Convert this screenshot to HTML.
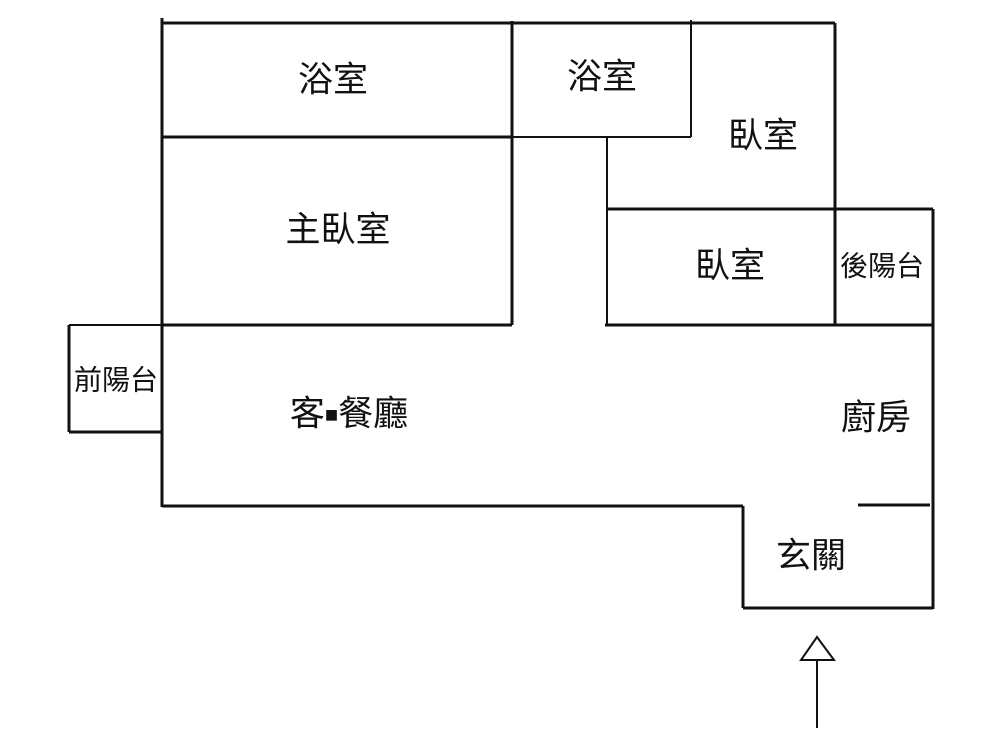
<!DOCTYPE html>
<html><head><meta charset="utf-8"><style>
html,body{margin:0;padding:0;background:#fff;}
svg{display:block;}
text{font-family:"Liberation Sans","Noto Sans CJK TC",sans-serif;fill:#111;text-anchor:middle;dominant-baseline:central;}
</style></head><body>
<svg width="1000" height="750" viewBox="0 0 1000 750">
<g stroke="#111" stroke-width="3" fill="none">
<line x1="162" y1="23" x2="835" y2="23"/>
<line x1="162" y1="18" x2="162" y2="507"/>
<line x1="162" y1="137" x2="512" y2="137"/>
<line x1="512" y1="21" x2="512" y2="325"/>
<line x1="162" y1="325" x2="512" y2="325"/>
<line x1="691" y1="20" x2="691" y2="137" stroke-width="2"/>
<line x1="512" y1="137" x2="691" y2="137" stroke-width="2"/>
<line x1="607" y1="137" x2="607" y2="325" stroke-width="2"/>
<line x1="835" y1="23" x2="835" y2="325"/>
<line x1="607" y1="209" x2="933" y2="209"/>
<line x1="933" y1="209" x2="933" y2="609"/>
<line x1="605" y1="325" x2="933" y2="325"/>
<line x1="69" y1="325" x2="162" y2="325" stroke-width="2"/>
<line x1="69" y1="325" x2="69" y2="432"/>
<line x1="69" y1="432" x2="162" y2="432"/>
<line x1="162" y1="506" x2="743" y2="506"/>
<line x1="743" y1="506" x2="743" y2="608"/>
<line x1="743" y1="608" x2="933" y2="608"/>
<line x1="858" y1="505" x2="930" y2="505"/>
<line x1="817" y1="660" x2="817" y2="728" stroke-width="2"/>
<polygon points="817,637 801,660 834,660" stroke-width="2"/>
</g>
<g font-size="35">
<text x="333" y="80">浴室</text>
<text x="602" y="77">浴室</text>
<text x="763" y="136">臥室</text>
<text x="338" y="230">主臥室</text>
<text x="730" y="266">臥室</text>
<text x="349" y="414">客<tspan font-size="22">■</tspan>餐廳</text>
<text x="876" y="418">廚房</text>
<text x="811" y="556">玄關</text>
</g>
<g font-size="28">
<text x="882" y="266">後陽台</text>
<text x="116" y="380">前陽台</text>
</g>
</svg>
</body></html>
